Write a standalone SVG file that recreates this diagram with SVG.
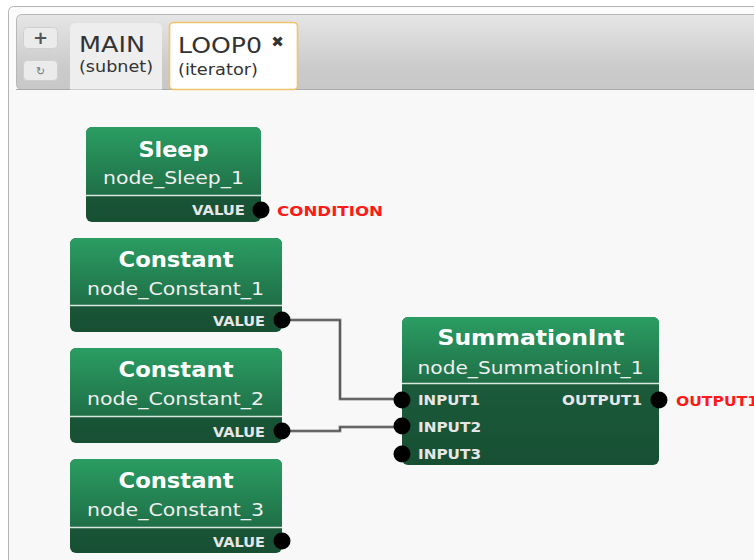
<svg xmlns="http://www.w3.org/2000/svg" width="754" height="560" viewBox="0 0 754 560">
<defs>
<linearGradient id="hdr" x1="0" y1="0" x2="0" y2="1">
<stop offset="0" stop-color="#2b9d63"/>
<stop offset="1" stop-color="#1f6f47"/>
</linearGradient>
<linearGradient id="ftr" x1="0" y1="0" x2="0" y2="1">
<stop offset="0" stop-color="#1e6441"/>
<stop offset="1" stop-color="#174f33"/>
</linearGradient>
<linearGradient id="bar" x1="0" y1="0" x2="0" y2="1">
<stop offset="0" stop-color="#e6e6e6"/>
<stop offset="0.7" stop-color="#cbcbcb"/>
<stop offset="1" stop-color="#c8c8c8"/>
</linearGradient>
<style>
.title{font-family:"DejaVu Sans",Verdana,sans-serif;font-weight:bold;font-size:21px;fill:#ffffff;text-anchor:middle}
.nid{font-family:"DejaVu Sans",Verdana,sans-serif;font-size:18px;fill:#f0f0f0;text-anchor:middle}
.port{font-family:"DejaVu Sans",Verdana,sans-serif;font-weight:bold;font-size:13.5px;fill:#e6e6e6}
.ext{font-family:"DejaVu Sans",Verdana,sans-serif;font-weight:bold;font-size:14px;fill:#ff1a1a}
.sep{stroke:#d8e8df;stroke-width:1.5}
.pin{fill:#000000}
.wire{fill:none;stroke:#9a9a9a;stroke-width:3}
.wcore{fill:none;stroke:#333333;stroke-width:1.2}
.tab{font-family:"DejaVu Sans",Verdana,sans-serif;fill:#333333}
</style>
</defs>
<rect x="0" y="0" width="754" height="560" fill="#ffffff"/>
<rect x="8.5" y="6.5" width="760" height="570" rx="5" fill="#fbfbfb" stroke="#b4b4b4"/>
<rect x="9" y="89" width="745" height="471" fill="#f8f8f8"/>
<g id="tabbar">
<rect x="16.5" y="14.5" width="760" height="75" rx="5" fill="url(#bar)" stroke="#b8b8b8"/>
<line x1="16" y1="89.5" x2="754" y2="89.5" stroke="#aaaaaa"/>
<rect x="23.5" y="27.5" width="34" height="21" rx="4" fill="#ebebeb" stroke="#d0d0d0"/>
<text x="40.5" y="44" font-family="DejaVu Sans,sans-serif" font-weight="bold" font-size="18" fill="#555555" text-anchor="middle">+</text>
<rect x="23.5" y="60.5" width="34" height="20" rx="4" fill="#ebebeb" stroke="#d0d0d0"/>
<text x="40.5" y="75" font-family="DejaVu Sans,sans-serif" font-size="11" fill="#777777" text-anchor="middle">↻</text>
<path d="M70,89.5 V28 a5,5 0 0 1 5,-5 H157 a5,5 0 0 1 5,5 V89.5 Z" fill="#eeeeee"/>
<text class="tab" x="79" y="52" font-size="21" textLength="66" lengthAdjust="spacingAndGlyphs">MAIN</text>
<text class="tab" x="79" y="72" font-size="15" fill="#444444" textLength="74" lengthAdjust="spacingAndGlyphs">(subnet)</text>
<rect x="169.5" y="22.5" width="128" height="67" rx="4" fill="#ffffff" stroke="#efc46a" stroke-width="1.6"/>
<text class="tab" x="178" y="53" font-size="22" textLength="84" lengthAdjust="spacingAndGlyphs">LOOP0</text>
<text class="tab" x="277.5" y="47" font-size="15" text-anchor="middle">✖</text>
<text class="tab" x="178" y="75" font-size="15" fill="#444444" textLength="80" lengthAdjust="spacingAndGlyphs">(iterator)</text>
</g>
<g id="connectors">
<path class="wire" d="M282,320 H340 V399 H402"/>
<path class="wcore" d="M282,320 H340 V399 H402"/>
<path class="wire" d="M282,431 H340 V427 H402"/>
<path class="wcore" d="M282,431 H340 V427 H402"/>
</g>
<g id="node_Sleep_1">
<rect x="86" y="127" width="175" height="95" rx="6" fill="url(#ftr)"/>
<path d="M86,195 V133 a6,6 0 0 1 6,-6 H255 a6,6 0 0 1 6,6 V195 Z" fill="url(#hdr)"/>
<line class="sep" x1="86" y1="195.5" x2="261" y2="195.5"/>
<text class="title" x="173.5" y="157" textLength="70" lengthAdjust="spacingAndGlyphs">Sleep</text>
<text class="nid" x="173.5" y="184" textLength="141" lengthAdjust="spacingAndGlyphs">node_Sleep_1</text>
<text class="port" x="245" y="215" text-anchor="end" textLength="53" lengthAdjust="spacingAndGlyphs">VALUE</text>
<circle class="pin" cx="261" cy="210" r="8.5"/>
<text class="ext" x="277" y="216" textLength="106" lengthAdjust="spacingAndGlyphs">CONDITION</text>
</g>
<g id="node_Constant_1">
<rect x="70" y="238" width="212" height="94" rx="6" fill="url(#ftr)"/>
<path d="M70,305 V244 a6,6 0 0 1 6,-6 H276 a6,6 0 0 1 6,6 V305 Z" fill="url(#hdr)"/>
<line class="sep" x1="70" y1="305.5" x2="282" y2="305.5"/>
<text class="title" x="176" y="267" textLength="115" lengthAdjust="spacingAndGlyphs">Constant</text>
<text class="nid" x="175.5" y="295" textLength="177" lengthAdjust="spacingAndGlyphs">node_Constant_1</text>
<text class="port" x="265" y="326" text-anchor="end" textLength="52" lengthAdjust="spacingAndGlyphs">VALUE</text>
<circle class="pin" cx="282" cy="320" r="8.5"/>
</g>
<g id="node_Constant_2">
<rect x="70" y="348" width="212" height="95" rx="6" fill="url(#ftr)"/>
<path d="M70,416 V354 a6,6 0 0 1 6,-6 H276 a6,6 0 0 1 6,6 V416 Z" fill="url(#hdr)"/>
<line class="sep" x1="70" y1="416.5" x2="282" y2="416.5"/>
<text class="title" x="176" y="377" textLength="115" lengthAdjust="spacingAndGlyphs">Constant</text>
<text class="nid" x="175.5" y="405" textLength="177" lengthAdjust="spacingAndGlyphs">node_Constant_2</text>
<text class="port" x="265" y="437" text-anchor="end" textLength="52" lengthAdjust="spacingAndGlyphs">VALUE</text>
<circle class="pin" cx="282" cy="431" r="8.5"/>
</g>
<g id="node_Constant_3">
<rect x="70" y="459" width="212" height="94" rx="6" fill="url(#ftr)"/>
<path d="M70,527 V465 a6,6 0 0 1 6,-6 H276 a6,6 0 0 1 6,6 V527 Z" fill="url(#hdr)"/>
<line class="sep" x1="70" y1="527.5" x2="282" y2="527.5"/>
<text class="title" x="176" y="488" textLength="115" lengthAdjust="spacingAndGlyphs">Constant</text>
<text class="nid" x="175.5" y="516" textLength="177" lengthAdjust="spacingAndGlyphs">node_Constant_3</text>
<text class="port" x="265" y="547" text-anchor="end" textLength="52" lengthAdjust="spacingAndGlyphs">VALUE</text>
<circle class="pin" cx="282" cy="541" r="8.5"/>
</g>
<g id="node_SummationInt_1">
<rect x="402" y="317" width="257" height="148" rx="6" fill="url(#ftr)"/>
<path d="M402,383 V323 a6,6 0 0 1 6,-6 H653 a6,6 0 0 1 6,6 V383 Z" fill="url(#hdr)"/>
<line class="sep" x1="402" y1="383.5" x2="659" y2="383.5"/>
<text class="title" x="531" y="345" textLength="187" lengthAdjust="spacingAndGlyphs">SummationInt</text>
<text class="nid" x="530.5" y="374" textLength="226" lengthAdjust="spacingAndGlyphs">node_SummationInt_1</text>
<text class="port" x="418" y="405" textLength="62" lengthAdjust="spacingAndGlyphs">INPUT1</text>
<text class="port" x="418" y="432" textLength="63" lengthAdjust="spacingAndGlyphs">INPUT2</text>
<text class="port" x="418" y="459" textLength="63" lengthAdjust="spacingAndGlyphs">INPUT3</text>
<text class="port" x="642" y="405" text-anchor="end" textLength="80" lengthAdjust="spacingAndGlyphs">OUTPUT1</text>
<circle class="pin" cx="402" cy="400" r="8.5"/>
<circle class="pin" cx="402" cy="426" r="8.5"/>
<circle class="pin" cx="402" cy="454" r="8.5"/>
<circle class="pin" cx="659" cy="400" r="8.5"/>
<text class="ext" x="676" y="406" textLength="82" lengthAdjust="spacingAndGlyphs">OUTPUT1</text>
</g>
</svg>
